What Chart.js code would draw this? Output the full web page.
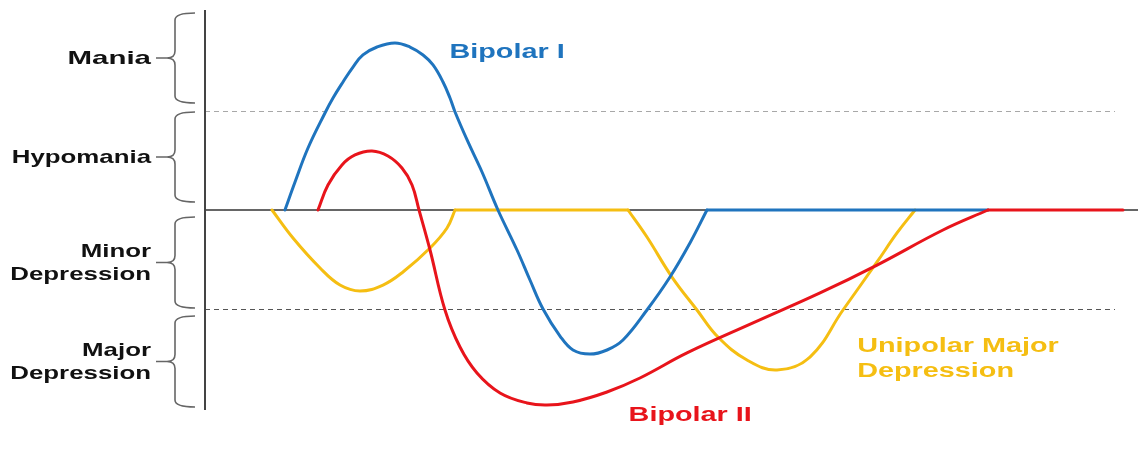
<!DOCTYPE html>
<html>
<head>
<meta charset="utf-8">
<script src="https://cdn.jsdelivr.net/npm/chart.js@4/dist/chart.umd.min.js"></script>
<style>
  html, body { margin: 0; padding: 0; background: #ffffff; }
  canvas { display: block; }
</style>
</head>
<body>
<canvas id="c" width="1138" height="452"></canvas>
<script>
// ---- Data (time in arbitrary units 0..100; mood level: 0 = euthymia, +1 mania threshold, -1 major depression threshold)
// null marks a break between a mood episode and a flat (euthymic) stretch
const bipolarIX = [8.57, 9.65, 11.04, 12.86, 13.72, 14.79, 15.86, 16.93, 18.44, 20.36, 21.97, 23.37, 24.44, 25.51, 26.26, 26.80, 28.19, 29.69, 31.40, 33.44, 34.83, 36.23, 38.05, 39.44, 41.26, 43.09, 44.80, 47.37, 49.84, 51.98, 53.80, 53.80, 53.80, 83.92];
const bipolarIY = [0, 0.283, 0.626, 0.980, 1.131, 1.293, 1.444, 1.566, 1.646, 1.687, 1.646, 1.566, 1.465, 1.293, 1.131, 0.990, 0.687, 0.384, 0, -0.404, -0.707, -1.0, -1.273, -1.414, -1.455, -1.414, -1.313, -1.01, -0.677, -0.333, 0, null, 0, 0];

const bipolarIIX = [12.11, 13.18, 14.68, 16.08, 17.90, 19.61, 21.11, 22.19, 22.94, 24.12, 25.72, 27.33, 29.15, 31.62, 34.51, 36.66, 39.44, 43.09, 46.62, 51.66, 58.74, 65.92, 72.03, 79.10, 83.92, 83.92, 83.92, 98.39];
const bipolarIIY = [0, 0.253, 0.455, 0.556, 0.596, 0.545, 0.424, 0.253, 0, -0.404, -1.01, -1.384, -1.646, -1.848, -1.949, -1.970, -1.939, -1.838, -1.697, -1.444, -1.141, -0.838, -0.556, -0.202, 0, null, 0, 0];

const unipolarX = [7.18, 9.43, 12.33, 14.47, 16.61, 19.08, 21.22, 24.12, 25.94, 26.80, 26.80, 26.80, 45.34, 45.34, 45.34, 47.37, 50.05, 52.73, 54.98, 58.09, 61.31, 64.84, 68.38, 72.03, 74.17, 76.10];
const unipolarY = [0, -0.283, -0.586, -0.758, -0.818, -0.758, -0.626, -0.384, -0.182, 0, null, 0, 0, null, 0, -0.273, -0.677, -1.01, -1.283, -1.515, -1.616, -1.485, -1.01, -0.525, -0.232, 0];

const bandNames = [["Mania"], ["Hypomania"], ["Minor", "Depression"], ["Major", "Depression"]];
const bandBounds = [[2, 1], [1, 0], [0, -1], [-1, -2]];
const thresholds = [1, -1];

const seriesNames = ["Bipolar I", "Bipolar II", ["Unipolar Major", "Depression"]];

// ---- styles
const BLUE = "#1f74be";
const RED = "#e8141b";
const YELLOW = "#f5be12";
const FONT = '"Liberation Sans", Arial, sans-serif';

// split a series at its null entries into contiguous runs of {x,y}
function runs(xs, ys) {
  const out = [];
  let cur = [];
  xs.forEach((x, i) => {
    if (ys[i] === null) { if (cur.length) out.push(cur); cur = []; }
    else cur.push({ x: x, y: ys[i] });
  });
  if (cur.length) out.push(cur);
  return out;
}

function seriesDatasets(label, xs, ys, color, order) {
  return runs(xs, ys).map((r, k) => ({
    label: label + (k ? " (" + k + ")" : ""),
    data: r,
    borderColor: color,
    order: order
  }));
}

function stretchedText(ctx, text, x, y, align, size, color, sx) {
  ctx.save();
  ctx.translate(x, y);
  ctx.scale(sx, 1);
  ctx.font = "bold " + size + "px " + FONT;
  ctx.fillStyle = color;
  ctx.textAlign = align;
  ctx.textBaseline = "alphabetic";
  ctx.fillText(text, 0, 0);
  ctx.restore();
}

const decorPlugin = {
  id: "decor",
  beforeDatasetsDraw(chart) {
    const ctx = chart.ctx;
    const a = chart.chartArea;
    const ys = chart.scales.y;
    ctx.save();
    thresholds.forEach((t, i) => {
      const py = Math.round(ys.getPixelForValue(t)) + 0.5;
      ctx.beginPath();
      ctx.setLineDash([5, 4]);
      ctx.strokeStyle = i === 0 ? "#a8a8a8" : "#555555";
      ctx.lineWidth = 1.2;
      ctx.moveTo(a.left, py);
      ctx.lineTo(a.right - 23, py);
      ctx.stroke();
    });
    ctx.setLineDash([]);
    const by = ys.getPixelForValue(0);
    ctx.beginPath();
    ctx.strokeStyle = "#333333";
    ctx.lineWidth = 1.6;
    ctx.moveTo(a.left, by);
    ctx.lineTo(a.right, by);
    ctx.stroke();
    ctx.beginPath();
    ctx.strokeStyle = "#444444";
    ctx.lineWidth = 2;
    ctx.moveTo(a.left, a.top);
    ctx.lineTo(a.left, a.bottom);
    ctx.stroke();
    const sx = 175, hx = 195;
    bandBounds.forEach((b, i) => {
      let top = ys.getPixelForValue(b[0]);
      let bot = ys.getPixelForValue(b[1]);
      if (b[0] > 0) { top += 1; bot -= 8; } else { top += 7; bot -= 1; }
      const mid = (top + bot) / 2;
      ctx.beginPath();
      ctx.strokeStyle = "#666666";
      ctx.lineWidth = 1.6;
      ctx.moveTo(hx, top);
      ctx.quadraticCurveTo(sx, top, sx, top + 7);
      ctx.lineTo(sx, mid - 7);
      ctx.quadraticCurveTo(sx, mid, sx - 8, mid);
      ctx.lineTo(sx - 19, mid);
      ctx.moveTo(sx - 8, mid);
      ctx.quadraticCurveTo(sx, mid, sx, mid + 7);
      ctx.lineTo(sx, bot - 7);
      ctx.quadraticCurveTo(sx, bot, hx, bot);
      ctx.stroke();
      const lines = bandNames[i];
      const lh = 23;
      const base0 = mid + 6 - (lines.length - 1) * lh / 2;
      lines.forEach((t, k) => {
        stretchedText(ctx, t, 151, base0 + k * lh, "right", 19, "#111111", t === "Mania" ? 1.55 : 1.36);
      });
    });
    ctx.restore();
  },
  afterDatasetsDraw(chart) {
    const ctx = chart.ctx;
    const xs = chart.scales.x, ys = chart.scales.y;
    stretchedText(ctx, seriesNames[0], xs.getPixelForValue(26.2), ys.getPixelForValue(1.54), "left", 20, BLUE, 1.44);
    stretchedText(ctx, seriesNames[1], xs.getPixelForValue(45.4), ys.getPixelForValue(-2.13), "left", 20, RED, 1.44);
    seriesNames[2].forEach((t, k) => {
      stretchedText(ctx, t, xs.getPixelForValue(69.9), ys.getPixelForValue(-1.43) + k * 25, "left", 20, YELLOW, 1.44);
    });
  }
};

Chart.defaults.font.family = FONT;

new Chart(document.getElementById("c"), {
  type: "line",
  data: {
    datasets: [].concat(
      seriesDatasets("Bipolar II", bipolarIIX, bipolarIIY, RED, 1),
      seriesDatasets("Bipolar I", bipolarIX, bipolarIY, BLUE, 2),
      seriesDatasets("Unipolar Major Depression", unipolarX, unipolarY, YELLOW, 3)
    )
  },
  options: {
    responsive: false,
    animation: false,
    devicePixelRatio: 1,
    layout: { padding: { left: 205, right: 0, top: 10, bottom: 42 } },
    elements: {
      line: { borderWidth: 3, tension: 0.4, fill: false, borderCapStyle: "round", borderJoinStyle: "round" },
      point: { radius: 0, hoverRadius: 0 }
    },
    scales: {
      x: { type: "linear", min: 0, max: 100, display: false },
      y: { type: "linear", min: -2.02, max: 2.02, display: false }
    },
    plugins: { legend: { display: false }, tooltip: { enabled: false } }
  },
  plugins: [decorPlugin]
});
</script>
</body>
</html>
